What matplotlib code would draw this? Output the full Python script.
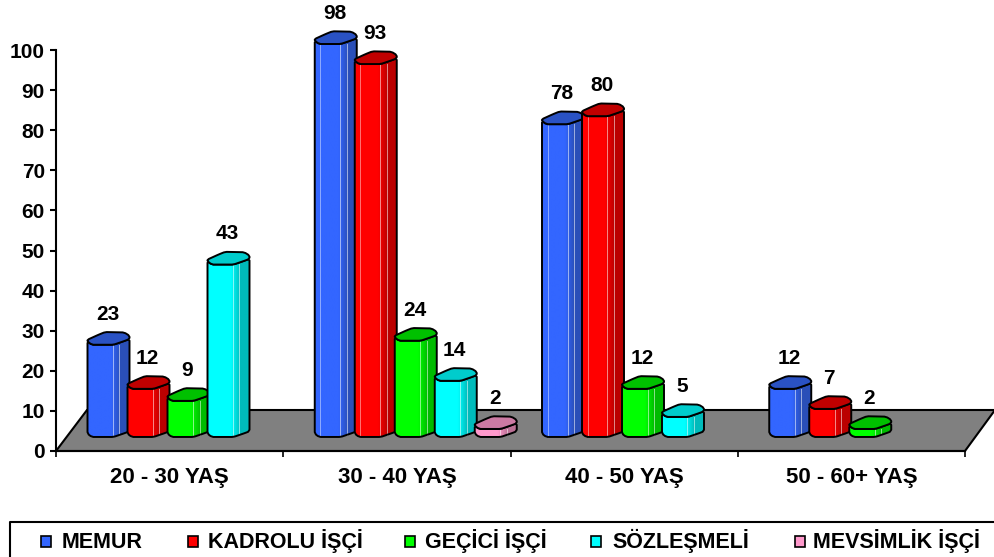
import numpy as np
import matplotlib
matplotlib.use('Agg')
import matplotlib.pyplot as plt
from matplotlib.colors import LinearSegmentedColormap
from matplotlib.patches import Polygon, Rectangle

plt.rcParams['font.family'] = ['Liberation Sans', 'DejaVu Sans']
plt.rcParams['font.weight'] = 'bold'

categories = ['20 - 30 YAŞ', '30 - 40 YAŞ', '40 - 50 YAŞ', '50 - 60+ YAŞ']
series_names = ['MEMUR', 'KADROLU İŞÇİ', 'GEÇİCİ İŞÇİ', 'SÖZLEŞMELİ', 'MEVSİMLİK İŞÇİ']
memur = [23, 98, 78, 12]
kadrolu = [12, 93, 80, 7]
gecici = [9, 24, 12, 2]
sozlesmeli = [43, 14, 5, None]
mevsimlik = [None, 2, None, None]
y_ticks = [0, 10, 20, 30, 40, 50, 60, 70, 80, 90, 100]

series = [memur, kadrolu, gecici, sozlesmeli, mevsimlik]
light = ['#3366FF', '#FF0000', '#00FF00', '#00FFFF', '#FF99CC']
dark = ['#2A4FB8', '#BB0000', '#00BB00', '#00BBBB', '#BB7095']
cap = ['#2A52C4', '#C00000', '#00C000', '#00CCCC', '#CC7AA3']
legend_sq = [41, 188, 405, 591, 795]
legend_txt = [62, 208, 425, 612, 813]

W, H = 995, 557
x0_px, x1_px, y0_px, y100_px = 56, 965, 451, 50
sx = (x1_px - x0_px) / 4
sy = (y0_px - y100_px) / 100

fig = plt.figure(figsize=(W / 100, H / 100), dpi=100)
ax = fig.add_axes([x0_px / W, (H - y0_px) / H, (x1_px - x0_px) / W, y0_px / H])
xlim = (0, 4)
ylim = (0, y0_px / sy)


def px(x, y):
    # pixel offsets to data units
    return x / sx, y / sy


def smooth(pts, cut=1.5):
    # cut each corner by a fixed pixel length so the outlines look rounded
    out = []
    n = len(pts)
    for k in range(n):
        a = np.array(pts[k], dtype=float)
        b = np.array(pts[(k + 1) % n], dtype=float)
        d = np.hypot(*(b - a))
        c = min(cut, d / 3) / d
        out.append(tuple(a + c * (b - a)))
        out.append(tuple(b - c * (b - a)))
    return out


def draw_bar(x_data, value, col_light, col_dark, col_cap, z):
    base = 3.5
    top = base + value
    hgt = value * sy
    body = [(0, 3.3), (0, -hgt + 3.3), (4.3, -hgt), (26, -hgt), (37.7, -hgt + 4), (42, -hgt + 5.7), (42, 5.7), (26, 0), (4.3, 0)]
    lid = [(0, 3.3), (4.3, 0), (26, 0), (37.7, 4), (42, 5.7), (42, 9), (36.7, 12.3), (17.7, 12.7), (11, 10), (0, 5)]
    body = [(x_data + px(a, b)[0], top + px(a, b)[1]) for a, b in smooth(body)]
    lid = [(x_data + px(a, b)[0], top + px(a, b)[1]) for a, b in smooth(lid)]

    cmap = LinearSegmentedColormap.from_list('b', [(0, col_light), (0.55, col_light), (0.78, col_dark), (1, col_dark)])
    body_patch = Polygon(body, closed=True, facecolor='none', edgecolor='none', zorder=z)
    ax.add_patch(body_patch)
    im = ax.imshow(np.linspace(0, 1, 64).reshape(1, -1), cmap=cmap, aspect='auto', zorder=z,
                   extent=(x_data, x_data + px(42, 0)[0], base - 1, top + 3), interpolation='bilinear')
    im.set_clip_path(body_patch)

    for d in [25.5, 32]:
        ax.plot([x_data + px(d, 0)[0]] * 2, [top + px(0, 1)[1] - 0.2, base + px(0, 2)[1]], color='white',
                alpha=0.55, lw=0.7, zorder=z + 0.1)
    if value > 50:
        ax.plot([x_data + px(5.5, 0)[0]] * 2, [top, base], color='white', alpha=0.45, lw=0.7, zorder=z + 0.1)

    ax.add_patch(Polygon(body, closed=True, facecolor='none', edgecolor='black', lw=1.4, joinstyle='round', zorder=z + 0.2))
    ax.add_patch(Polygon(lid, closed=True, facecolor=col_cap, edgecolor='black', lw=1.4, joinstyle='round', zorder=z + 0.3))

    ax.annotate(str(value), xy=(x_data + px(20, 0)[0], top), xytext=(0, 22), textcoords='offset points',
                ha='center', va='center', fontsize=15, fontweight='bold', color='black', zorder=50)


# floor
floor_dx, floor_dy = 31, 41
floor = [(0, 0), (4, 0), (4 + px(floor_dx - 1, 0)[0], px(0, floor_dy)[1]), (px(floor_dx, 0)[0], px(0, floor_dy)[1])]
ax.add_patch(Polygon(floor, closed=True, facecolor='#808080', edgecolor='black', lw=1.5, clip_on=False, zorder=1))

z = 2
for g in range(len(categories)):
    for i, s in enumerate(series):
        if s[g] is None:
            continue
        draw_bar(g + px(31.5 + 40 * i, 0)[0], s[g], light[i], dark[i], cap[i], z)
        z += 1

ax.set_xlim(*xlim)
ax.set_ylim(*ylim)
ax.patch.set_visible(False)
for side in ['top', 'right']:
    ax.spines[side].set_visible(False)
ax.spines['left'].set_bounds(0, 100)
ax.spines['left'].set_linewidth(1.5)
ax.spines['bottom'].set_linewidth(1.5)
ax.spines['left'].set_zorder(40)
ax.spines['bottom'].set_zorder(40)

ax.set_yticks(y_ticks)
ax.set_yticklabels([str(v) for v in y_ticks], fontsize=15, fontweight='bold')
ax.tick_params(axis='y', length=4, width=1.5, pad=4)
ax.set_xticks(range(5))
ax.set_xticklabels([''] * 5)
ax.tick_params(axis='x', length=4, width=1.2)
for g, name in enumerate(categories):
    ax.annotate(name, xy=(g + 0.5, 0), xytext=(0, -19), textcoords='offset points', ha='center', va='center',
                fontsize=16, fontweight='bold', annotation_clip=False)

# legend box runs off the right and bottom of the picture
fig.add_artist(plt.Line2D([10 / W, 10 / W, 1], [0, (H - 522) / H, (H - 522) / H], color='black', lw=1.5))
for i, name in enumerate(series_names):
    fig.add_artist(Rectangle((legend_sq[i] / W, (H - 547) / H), 10 / W, 11 / H, transform=fig.transFigure,
                             facecolor=light[i], edgecolor='black', lw=1.2))
    fig.text(legend_txt[i] / W, (H - 548) / H, name, fontsize=15.5, fontweight='bold', va='baseline', ha='left')

fig.savefig('out.png', dpi=100)
